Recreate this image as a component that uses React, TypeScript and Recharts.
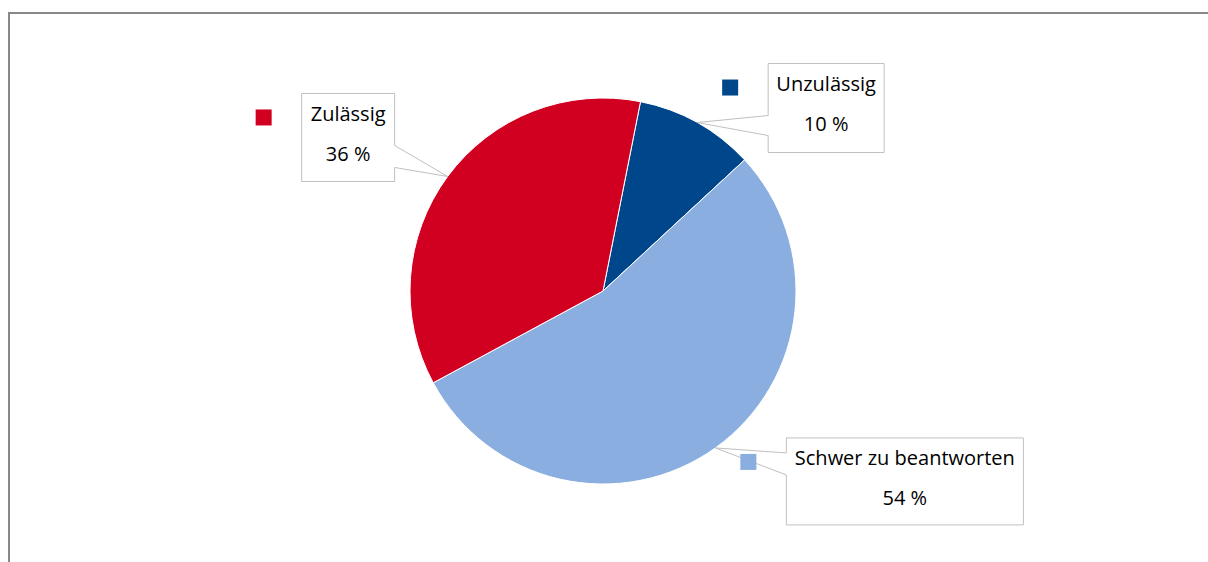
import { PieChart, Pie, Cell } from 'recharts';

// answer categories and shares in percent
const categories = ['Unzulässig', 'Schwer zu beantworten', 'Zulässig'];
const shares = [10, 54, 36];
const colors = ['#00468B', '#8AAEE0', '#D20020'];

const data = categories.map((name, i) => ({ name, value: shares[i] }));

// callout box layout, relative to the pointer tip on the pie edge
const boxes = [
  { dx: 71, dy: -59, w: 116, h: 89, side: 'left', p1: 52, p2: 72 },
  { dx: 71, dy: -10, w: 237, h: 87, side: 'left', p1: 15, p2: 37 },
  { dx: -146, dy: -83, w: 93, h: 88, side: 'right', p1: 52, p2: 74 },
];

const RADIAN = Math.PI / 180;

const renderCallout = (props: any) => {
  const { cx, cy, midAngle, outerRadius, index, name, value } = props;
  const tx = cx + outerRadius * Math.cos(-midAngle * RADIAN);
  const ty = cy + outerRadius * Math.sin(-midAngle * RADIAN);
  const b = boxes[index];
  const x0 = tx + b.dx;
  const y0 = ty + b.dy;
  const x1 = x0 + b.w;
  const y1 = y0 + b.h;
  let d: string;
  if (b.side === 'left') {
    d = `M${x0},${y0} L${x1},${y0} L${x1},${y1} L${x0},${y1} L${x0},${y0 + b.p2} L${tx},${ty} L${x0},${y0 + b.p1} Z`;
  } else {
    d = `M${x0},${y0} L${x1},${y0} L${x1},${y0 + b.p1} L${tx},${ty} L${x1},${y0 + b.p2} L${x1},${y1} L${x0},${y1} Z`;
  }
  const mx = (x0 + x1) / 2;
  return (
    <g>
      <path d={d} fill="#fff" stroke="#c0c0c0" strokeWidth={1} />
      <rect x={x0 - 46} y={y0 + 16} width={16} height={16} fill={colors[index]} />
      <text x={mx} y={y0 + 20} textAnchor="middle" dominantBaseline="central" fontSize={20} fill="#000">
        {name}
      </text>
      <text x={mx} y={y0 + 60} textAnchor="middle" dominantBaseline="central" fontSize={20} fill="#000">
        {`${value} %`}
      </text>
    </g>
  );
};

export default function App() {
  return (
    <div style={{ position: 'absolute', left: 0, top: 0, width: 1208, height: 562, overflow: 'hidden', background: '#fff', fontFamily: '"Open Sans", sans-serif' }}>
      <div style={{ position: 'absolute', left: 8, top: 12, width: 1300, height: 700, border: '2px solid #888', boxSizing: 'border-box' }} />
      <div style={{ position: 'absolute', left: 0, top: 0 }}>
        <PieChart width={1208} height={562} margin={{ top: 0, right: 0, bottom: 0, left: 0 }}>
          <Pie
            data={data}
            dataKey="value"
            nameKey="name"
            cx={603}
            cy={291}
            outerRadius={193}
            startAngle={78.8}
            endAngle={-281.2}
            stroke="#fff"
            strokeWidth={1}
            labelLine={false}
            label={renderCallout}
            isAnimationActive={false}
          >
            {data.map((d, i) => (
              <Cell key={d.name} fill={colors[i]} />
            ))}
          </Pie>
        </PieChart>
      </div>
    </div>
  );
}
